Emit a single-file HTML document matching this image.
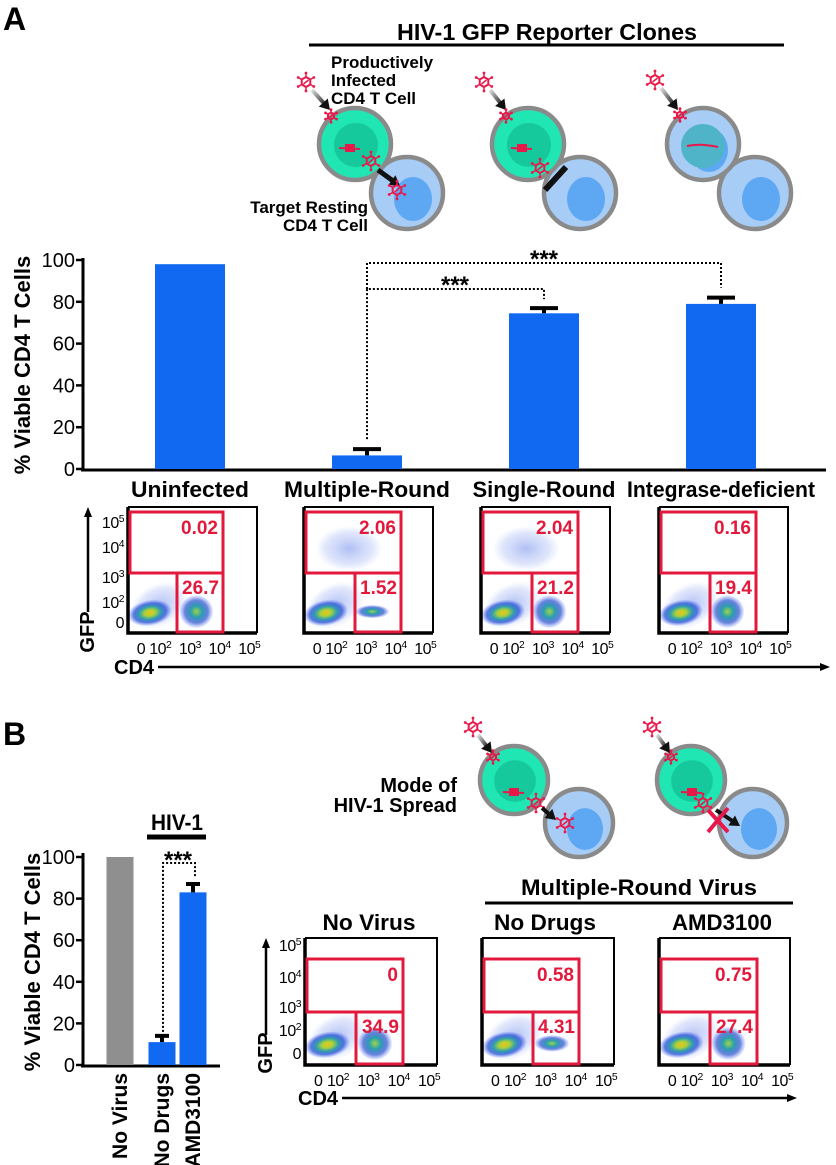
<!DOCTYPE html>
<html><head><meta charset="utf-8"><style>
html,body{margin:0;padding:0;background:#fff;}
svg{display:block;font-family:"Liberation Sans",Arial,sans-serif;font-weight:bold;}
</style></head><body>
<svg id="fig" width="836" height="1165" viewBox="0 0 836 1165" xmlns="http://www.w3.org/2000/svg">
<defs>
<radialGradient id="blob" cx="50%" cy="50%" r="50%">
<stop offset="0" stop-color="#f2c21b"/><stop offset="0.25" stop-color="#a8d23a"/><stop offset="0.5" stop-color="#2f9fb0"/><stop offset="0.75" stop-color="#2a4fd8" stop-opacity="0.75"/><stop offset="1" stop-color="#5a7af0" stop-opacity="0.1"/>
</radialGradient>
<radialGradient id="blobw" cx="50%" cy="50%" r="50%">
<stop offset="0" stop-color="#9fd445"/><stop offset="0.35" stop-color="#2a9fb0"/><stop offset="0.7" stop-color="#2b4fd0" stop-opacity="0.7"/><stop offset="1" stop-color="#5a7af0" stop-opacity="0.1"/>
</radialGradient>
<radialGradient id="blobfaint" cx="50%" cy="50%" r="50%">
<stop offset="0" stop-color="#4f6fe8" stop-opacity="0.45"/><stop offset="0.7" stop-color="#7f9af0" stop-opacity="0.25"/><stop offset="1" stop-color="#9fb4f5" stop-opacity="0"/>
</radialGradient>
<linearGradient id="arrg" x1="0" y1="0" x2="1" y2="1"><stop offset="0" stop-color="#ddd"/><stop offset="1" stop-color="#222"/></linearGradient>
</defs>
<text x="3" y="30" font-size="32">A</text>
<text x="3" y="745" font-size="32">B</text>
<g id="gA"></g>
<g id="gB"></g>
<g id="gCells"></g>
<g id="gFlow"></g>
</svg>
<script>
// ---- Panel A bar chart data ----
const catsA = ["Uninfected","Multiple-Round","Single-Round","Integrase-deficient"];
const valsA = [98, 6.5, 74.5, 79];
const errA = [0, 9.5, 77, 82];
const ticksA = [0,20,40,60,80,100];
// ---- Panel B bar chart data ----
const catsB = ["No Virus","No Drugs","AMD3100"];
const valsB = [100, 11, 83];
const errB = [0, 14, 87];
const ticksB = [0,20,40,60,80,100];
// ---- Flow gate values ----
const gateTopA = ["0.02","2.06","2.04","0.16"];
const gateBotA = ["26.7","1.52","21.2","19.4"];
const gateTopB = ["0","0.58","0.75"];
const gateBotB = ["34.9","4.31","27.4"];

const NS="http://www.w3.org/2000/svg";
function mk(parent,tag,attrs,txt){const e=document.createElementNS(NS,tag);for(const k in attrs)e.setAttribute(k,attrs[k]);if(txt!==undefined)e.textContent=txt;parent.appendChild(e);return e;}

// Panel A chart
const gA=document.getElementById('gA');
const yA=v=>469-v*2.09;
const centersA=[190,367,544,721];
const bwA=70;
mk(gA,'line',{x1:83,y1:258,x2:83,y2:471,stroke:'#000','stroke-width':3});
mk(gA,'line',{x1:81,y1:470,x2:826,y2:470,stroke:'#000','stroke-width':3});
ticksA.forEach(t=>{
  const tk=mk(gA,'line',{x1:76,y1:yA(t),x2:83,y2:yA(t),stroke:'#000','stroke-width':2.5});
  
  const tl=mk(gA,'text',{x:75,y:yA(t)+7,'font-size':20,'text-anchor':'end','font-weight':'normal'},String(t));
  
});
const ylA=mk(gA,'text',{x:0,y:0,'font-size':22,'text-anchor':'middle',transform:'translate(30,365) rotate(-90)'},'% Viable CD4 T Cells');

const lenA=[118,166,143,188];
catsA.forEach((c,i)=>{
  const b=mk(gA,'rect',{x:centersA[i]-bwA/2,y:yA(valsA[i]),width:bwA,height:469-yA(valsA[i]),fill:'#1169f2'});
  
  if(errA[i]>valsA[i]){
    const e=mk(gA,'path',{d:`M${centersA[i]} ${yA(valsA[i])} V${yA(errA[i])} M${centersA[i]-14} ${yA(errA[i])} H${centersA[i]+14}`,stroke:'#000','stroke-width':4,fill:'none'});
    
  }
  const l=mk(gA,'text',{x:centersA[i],y:497,'font-size':22,'text-anchor':'middle',textLength:lenA[i],lengthAdjust:'spacingAndGlyphs'},c);
  
});
const sig1=mk(gA,'path',{d:`M367 ${yA(errA[1])-10} V289 H544 V${yA(errA[2])-9}`,stroke:'#000','stroke-width':2,'stroke-dasharray':'2 2',fill:'none'});

const sig2=mk(gA,'path',{d:`M367 289 V263 H721 V${yA(errA[3])-10}`,stroke:'#000','stroke-width':2,'stroke-dasharray':'2 2',fill:'none'});

const st1=mk(gA,'text',{x:455,y:293,'font-size':24,'text-anchor':'middle'},'***');

const st2=mk(gA,'text',{x:544,y:267,'font-size':24,'text-anchor':'middle'},'***');


// Panel B chart
const gB=document.getElementById('gB');
const yB=v=>1065-v*2.08;
const centersB=[120,162,193];
const bwB=27;
mk(gB,'line',{x1:83,y1:853,x2:83,y2:1067,stroke:'#000','stroke-width':3});
mk(gB,'line',{x1:81,y1:1066,x2:220,y2:1066,stroke:'#000','stroke-width':3});
ticksB.forEach(t=>{
  const tk=mk(gB,'line',{x1:76,y1:yB(t),x2:83,y2:yB(t),stroke:'#000','stroke-width':2.5});
  
  const tl=mk(gB,'text',{x:75,y:yB(t)+7,'font-size':20,'text-anchor':'end','font-weight':'normal'},String(t));
  
});
const ylB=mk(gB,'text',{x:0,y:0,'font-size':22,'text-anchor':'middle',transform:'translate(40,962) rotate(-90)'},'% Viable CD4 T Cells');

catsB.forEach((c,i)=>{
  const b=mk(gB,'rect',{x:centersB[i]-bwB/2,y:yB(valsB[i]),width:bwB,height:1065-yB(valsB[i]),fill:i===0?'#8f8f8f':'#1169f2'});
  
  if(errB[i]>valsB[i]){
    const e=mk(gB,'path',{d:`M${centersB[i]} ${yB(valsB[i])} V${yB(errB[i])} M${centersB[i]-7} ${yB(errB[i])} H${centersB[i]+7}`,stroke:'#000','stroke-width':4,fill:'none'});
    
  }
  const l=mk(gB,'text',{x:0,y:0,'font-size':21,'text-anchor':'end',transform:`translate(${centersB[i]+7},1073) rotate(-90)`},c);
  
});
const sigB=mk(gB,'path',{d:`M163 ${yB(errB[1])-4} V863 H195 V${yB(errB[2])-6}`,stroke:'#000','stroke-width':2,'stroke-dasharray':'2 2',fill:'none'});

const stB=mk(gB,'text',{x:178,y:868,'font-size':24,'text-anchor':'middle'},'***');

const hv=mk(gB,'text',{x:177,y:830,'font-size':22,'text-anchor':'middle',textLength:52,lengthAdjust:'spacingAndGlyphs'},'HIV-1');

mk(gB,'line',{x1:147,y1:837,x2:206,y2:837,stroke:'#000','stroke-width':5});

// Cells
const gC=document.getElementById('gCells');
function virus(g,cx,cy,s){
  const grp=mk(g,'g',{});
  
  let pts=[];for(let k=0;k<6;k++){const a=Math.PI/3*k+Math.PI/6;pts.push((cx+s*Math.cos(a)).toFixed(1)+','+(cy+s*Math.sin(a)).toFixed(1));
    mk(grp,'line',{x1:cx+s*Math.cos(a),y1:cy+s*Math.sin(a),x2:cx+s*1.7*Math.cos(a),y2:cy+s*1.7*Math.sin(a),stroke:'#e8194a','stroke-width':1.5});
    mk(grp,'circle',{cx:cx+s*1.8*Math.cos(a),cy:cy+s*1.8*Math.sin(a),r:1.4,fill:'#e8194a'});}
  mk(grp,'polygon',{points:pts.join(' '),fill:'none',stroke:'#e8194a','stroke-width':2});
  mk(grp,'line',{x1:cx-s*0.5,y1:cy+s*0.4,x2:cx+s*0.5,y2:cy-s*0.4,stroke:'#e8194a','stroke-width':1.5});
}
function arrow(g,x1,y1,x2,y2,w,col){
  const a=Math.atan2(y2-y1,x2-x1);
  mk(g,'line',{x1:x1,y1:y1,x2:x2-7*Math.cos(a),y2:y2-7*Math.sin(a),stroke:col,'stroke-width':w});
  const px=-Math.sin(a),py=Math.cos(a);
  mk(g,'polygon',{points:`${x2},${y2} ${x2-10*Math.cos(a)+6*px},${y2-10*Math.sin(a)+6*py} ${x2-10*Math.cos(a)-6*px},${y2-10*Math.sin(a)-6*py}`,fill:'#111'});
}
function cell(g,cx,cy,r,green,name){
  const c=mk(g,'g',{});
  mk(c,'circle',{cx:cx,cy:cy,r:r-2,fill:green?'#20e6b4':'#a7cdf7',stroke:'#8a8a8a','stroke-width':4.5});
  if(green) mk(c,'circle',{cx:cx+1,cy:cy+1,r:r*0.58,fill:'#16c99c'});
  else mk(c,'ellipse',{cx:cx+6,cy:cy+6,rx:r*0.5,ry:r*0.58,fill:'#5ea7f3'});
}
function dna(g,x,y){mk(g,'line',{x1:x-9,y1:y,x2:x+12,y2:y+1,stroke:'#e8194a','stroke-width':2});mk(g,'rect',{x:x-3,y:y-4,width:10,height:8,fill:'#e8194a'});}
cell(gC,407,193,38,false,'target-resting-cell');
cell(gC,355,144,38,true,'infected-cell');
virus(gC,306,82,5);arrow(gC,312,90,330,110,4,'url(#arrg)');virus(gC,331,116,3.5);
dna(gC,348,148);virus(gC,371,161,5);arrow(gC,378,170,400,186,5,'#111');virus(gC,397,190,5);
cell(gC,580,193,38,false,'target-resting-cell');
cell(gC,528,144,38,true,'infected-cell');
virus(gC,484,82,5);arrow(gC,490,90,506,110,4,'url(#arrg)');virus(gC,506,116,3.5);
dna(gC,520,148);virus(gC,540,168,5);
mk(gC,'line',{x1:545,y1:190,x2:566,y2:167,stroke:'#111','stroke-width':6});
cell(gC,755,193,38,false,'target-resting-cell');
cell(gC,703,144,38,false,'reporter-cell');
mk(gC,'circle',{cx:703,cy:146,r:22,fill:'#4fb4c8'});
mk(gC,'path',{d:'M687 146 Q700 143 718 147',stroke:'#e8194a','stroke-width':2,fill:'none'});
virus(gC,655,80,5);arrow(gC,661,88,678,110,4,'url(#arrg)');virus(gC,680,115,3.5);
const h1=mk(gC,'text',{x:547,y:40,'font-size':23,'text-anchor':'middle',textLength:300,lengthAdjust:'spacingAndGlyphs'},'HIV-1 GFP Reporter Clones');

mk(gC,'line',{x1:309,y1:45,x2:784,y2:45,stroke:'#000','stroke-width':3});
[['Productively',68],['Infected',86],['CD4 T Cell',104]].forEach(([t,y])=>{const e=mk(gC,'text',{x:331,y:y,'font-size':17},t);});
[['Target Resting',213],['CD4 T Cell',231]].forEach(([t,y])=>{const e=mk(gC,'text',{x:368,y:y,'font-size':17,'text-anchor':'end'},t);});
cell(gC,579,823,36,false,'target-resting-cell');
cell(gC,514,780,36,true,'infected-cell');
virus(gC,473,727,5);arrow(gC,478,735,492,753,4,'url(#arrg)');virus(gC,493,757,3.5);
dna(gC,512,792);virus(gC,536,803,5);arrow(gC,542,808,556,820,4,'#111');virus(gC,565,823,5);
cell(gC,753,823,36,false,'target-resting-cell');
cell(gC,691,780,36,true,'infected-cell');
virus(gC,652,727,5);arrow(gC,657,735,670,753,4,'url(#arrg)');virus(gC,671,757,3.5);
dna(gC,690,792);virus(gC,703,803,5);arrow(gC,716,810,740,826,4,'#111');
mk(gC,'path',{d:'M708 810 L728 832 M728 808 L708 832',stroke:'#e8194a','stroke-width':4});
[['Mode of',792],['HIV-1 Spread',812]].forEach(([t,y])=>{const e=mk(gC,'text',{x:457,y:y,'font-size':20,'text-anchor':'end'},t);});
const mrv=mk(gC,'text',{x:639,y:895,'font-size':22,'text-anchor':'middle',textLength:236,lengthAdjust:'spacingAndGlyphs'},'Multiple-Round Virus');

mk(gC,'line',{x1:485,y1:903,x2:793,y2:903,stroke:'#000','stroke-width':3});
[['No Virus',369,93],['No Drugs',545,102],['AMD3100',722,100]].forEach(([t,x,l])=>{const e=mk(gC,'text',{x:x,y:930,'font-size':22,'text-anchor':'middle',textLength:l,lengthAdjust:'spacingAndGlyphs'},t);});

// Flow plots
const gF=document.getElementById('gFlow');
function supText(g,x,y,base,exp,anchor,fs){
  const t=mk(g,'text',{x:x,y:y,'font-size':fs,'text-anchor':anchor,'font-weight':'normal','letter-spacing':'-0.5'});
  mk(t,'tspan',{},base);
  if(exp){mk(t,'tspan',{dy:-6,'font-size':fs*0.65},exp);}
  return t;
}
function flow(x0,x1,y0,y1,gTop,gMid,gRight,gLeft,top,bot,pop,showY,yt){
  const g=mk(gF,'g',{});
  
  const W=x1-x0,H=y1-y0;
  // populations
  const lx=x0+W*0.24, ly=y1-H*0.22;
  mk(g,'ellipse',{cx:lx,cy:ly,rx:W*0.24,ry:H*0.17,fill:'url(#blobfaint)',transform:`rotate(-28 ${lx} ${ly})`});
  mk(g,'ellipse',{cx:x0+W*0.17,cy:y1-H*0.16,rx:W*0.17,ry:H*0.1,fill:'url(#blob)',transform:`rotate(-10 ${x0+W*0.17} ${y1-H*0.16})`});
  if(pop>0) mk(g,'ellipse',{cx:x0+W*0.53,cy:y1-H*0.17,rx:W*0.13,ry:H*0.13*pop,fill:'url(#blobw)'});
  if(parseFloat(top)>1) mk(g,'ellipse',{cx:x0+W*0.35,cy:y0+H*0.33,rx:W*0.26,ry:H*0.18,fill:'url(#blobfaint)'});
  // box
  mk(g,'path',{d:`M${x0} ${y0} H${x1} V${y1}`,stroke:'#000','stroke-width':2,fill:'none'});
  mk(g,'path',{d:`M${x0} ${y0} V${y1} H${x1}`,stroke:'#000','stroke-width':3.5,fill:'none'});
  const gu=mk(g,'rect',{x:x0+2,y:gTop,width:gRight-x0-2,height:gMid-gTop,fill:'none',stroke:'#e3193c','stroke-width':3});
  
  const gl=mk(g,'rect',{x:gLeft,y:gMid,width:gRight-gLeft,height:y1-gMid-1,fill:'none',stroke:'#e3193c','stroke-width':3});
  
  const v1=mk(g,'text',{x:gRight-5,y:gTop+22,'font-size':19,fill:'#e3193c','text-anchor':'end'},top);
  
  const v2=mk(g,'text',{x:gRight-4,y:gMid+21,'font-size':19,fill:'#e3193c','text-anchor':'end'},bot);
  
  const fr=[0.10,0.25,0.48,0.71,0.94],ex=['','2','3','4','5'];
  fr.forEach((f,i)=>{const t=supText(g,x0+W*f,y1+21,i?'10':'0',ex[i],'middle',16);
    });
  if(showY){
    const eY=['5','4','3','2',''];
    yt.forEach((yy,i)=>{const t=supText(g,x0-4,yy+6,i<4?'10':'0',eY[i],'end',16);
      });
  }
}
const boxA=[[128,257],[304,433],[481,610],[659,788]];
const gRA=[223,401,578,756], gLA=[177,355,532,710], popA=[1,0.4,1,1];
boxA.forEach((b,i)=>flow(b[0],b[1],507,633,512,573,gRA[i],gLA[i],gateTopA[i],gateBotA[i],popA[i],i===0,[522,547,577,602,622]));
const boxB=[[305,437],[482,614],[659,790]];
const gRB=[403,579,757], gLB=[356,533,710], popB=[1,0.5,1];
boxB.forEach((b,i)=>flow(b[0],b[1],938,1065,959,1012,gRB[i],gLB[i],gateTopB[i],gateBotB[i],popB[i],i===0,[945,977,1007,1030,1053]));
function axArrows(gx,gyTop,gyBot,cdy,cdx,cdEnd,gfpY){
  const g=mk(gF,'g',{});
  mk(g,'line',{x1:gx,y1:gyBot,x2:gx,y2:gyTop+8,stroke:'#000','stroke-width':2.5});
  mk(g,'polygon',{points:`${gx},${gyTop} ${gx-4},${gyTop+10} ${gx+4},${gyTop+10}`,fill:'#000'});
  const gf=mk(g,'text',{x:0,y:0,'font-size':20,'text-anchor':'middle',transform:`translate(${gx+6},${gfpY}) rotate(-90)`},'GFP');
  
  const cd=mk(g,'text',{x:cdx,y:cdy+7,'font-size':20},'CD4');
  
  mk(g,'line',{x1:cdx+44,y1:cdy,x2:cdEnd-8,y2:cdy,stroke:'#000','stroke-width':2.5});
  mk(g,'polygon',{points:`${cdEnd},${cdy} ${cdEnd-10},${cdy-4} ${cdEnd-10},${cdy+4}`,fill:'#000'});
}
axArrows(88,507,612,667,114,830,632);
axArrows(266,938,1035,1098,298,797,1053);
</script>
</body></html>
